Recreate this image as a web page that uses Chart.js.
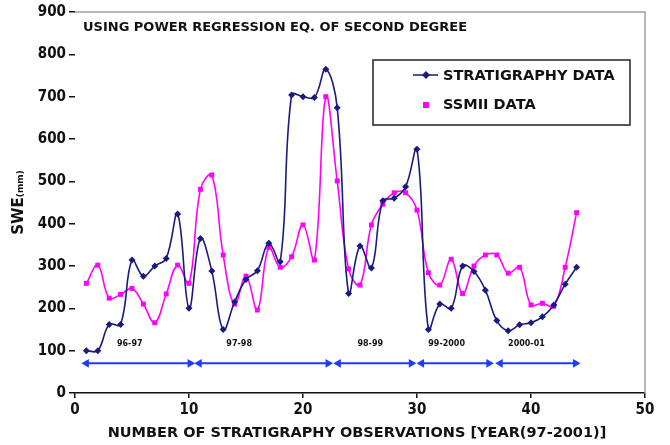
<!DOCTYPE html>
<html>
<head>
<meta charset="utf-8">
<script src="https://cdn.jsdelivr.net/npm/chart.js@4.4.1/dist/chart.umd.min.js"></script>
<style>
  html, body { margin: 0; padding: 0; background: #fff; }
  #wrap { width: 670px; height: 445px; position: relative; }
</style>
</head>
<body>
<div id="wrap"><canvas id="sweChart"></canvas></div>
<script>
const obsNo = [1, 2, 3, 4, 5, 6, 7, 8, 9, 10, 11, 12, 13, 14, 15, 16, 17, 18, 19, 20, 21, 22,
               23, 24, 25, 26, 27, 28, 29, 30, 31, 32, 33, 34, 35, 36, 37, 38, 39, 40, 41, 42, 43, 44];
const stratSwe = [100, 100, 162, 162, 314, 276, 300, 318, 423, 200,
                  365, 288, 150, 215, 268, 289, 354, 310, 704, 700,
                  698, 765, 674, 235, 347, 295, 454, 460, 487, 576,
                  150, 210, 200, 300, 287, 243, 171, 147, 161, 166,
                  180, 208, 257, 297];
const ssmiSwe = [259, 302, 224, 233, 247, 210, 166, 234, 302, 259,
                 481, 515, 326, 210, 276, 196, 344, 297, 322, 397,
                 314, 700, 501, 293, 255, 397, 446, 473, 473, 432,
                 284, 255, 316, 235, 300, 326, 326, 283, 297, 208,
                 212, 205, 297, 426];

// winter periods shown with arrows under the curves
const periodNames = ['96-97', '97-98', '98-99', '99-2000', '2000-01'];
const periodStart = [1, 10.9, 23.1, 30.4, 37.3];
const periodEnd = [10.1, 22.2, 29.5, 36.3, 43.9];
const periodLabelX = [4.8, 14.4, 25.9, 32.6, 39.6];
const periodLabelY = 115;
const arrowY = 70;

const yTicks = [0, 100, 200, 300, 400, 500, 600, 700, 800, 900];
const xTicks = [0, 10, 20, 30, 40, 50];

const NAVY = '#1a1a80';
const PINK = '#ff00ff';
const ARROW = '#1e3cff';
const WIDE = '"DejaVu Sans", sans-serif';
const NARROW = '"Liberation Sans Narrow", "DejaVu Sans Condensed", "Liberation Sans", sans-serif';

const arrowPts = [];
periodStart.forEach((s, i) => {
  arrowPts.push({ x: s, y: arrowY }, { x: periodEnd[i], y: arrowY }, { x: periodEnd[i], y: null });
});

const decor = {
  id: 'decor',
  afterDraw(chart) {
    const { ctx, chartArea: a, scales: { x, y } } = chart;
    ctx.save();

    // grey frame top and right
    ctx.strokeStyle = '#a0a0a0';
    ctx.lineWidth = 1.5;
    ctx.beginPath();
    ctx.moveTo(a.left, a.top);
    ctx.lineTo(a.right, a.top);
    ctx.lineTo(a.right, a.bottom);
    ctx.stroke();

    ctx.fillStyle = '#111';
    ctx.textBaseline = 'middle';
    ctx.textAlign = 'left';
    ctx.font = 'bold 13px ' + WIDE;
    ctx.fillText('USING POWER REGRESSION EQ. OF SECOND DEGREE', a.left + 8, a.top + 16);

    // period labels
    ctx.font = 'bold 8px ' + WIDE;
    ctx.textAlign = 'center';
    periodNames.forEach((n, i) => {
      ctx.fillText(n, x.getPixelForValue(periodLabelX[i]), y.getPixelForValue(periodLabelY));
    });

    // axis titles
    ctx.font = 'bold 14.5px ' + WIDE;
    ctx.fillText('NUMBER OF STRATIGRAPHY OBSERVATIONS [YEAR(97-2001)]', 357, 433);

    ctx.translate(19, (a.top + a.bottom) / 2);
    ctx.rotate(-Math.PI / 2);
    ctx.textAlign = 'left';
    ctx.font = 'bold 15px ' + WIDE;
    const w1 = ctx.measureText('SWE').width;
    ctx.font = 'bold 9px ' + WIDE;
    const w2 = ctx.measureText('(mm)').width;
    const x0 = -(w1 + w2) / 2;
    ctx.font = 'bold 15px ' + WIDE;
    ctx.fillText('SWE', x0, 0);
    ctx.font = 'bold 9px ' + WIDE;
    ctx.fillText('(mm)', x0 + w1, 2);
    ctx.restore();

    // legend box
    ctx.save();
    const bx = 373, by = 60, bw = 257, bh = 65;
    ctx.strokeStyle = '#222';
    ctx.lineWidth = 1.5;
    ctx.strokeRect(bx, by, bw, bh);
    ctx.font = 'bold 14.5px ' + WIDE;
    ctx.textBaseline = 'middle';
    ctx.fillStyle = '#111';
    const ds = chart.data.datasets;
    // entry 1
    ctx.strokeStyle = ds[0].borderColor;
    ctx.lineWidth = 1.5;
    ctx.beginPath();
    ctx.moveTo(413, 75);
    ctx.lineTo(438, 75);
    ctx.stroke();
    ctx.fillStyle = ds[0].borderColor;
    ctx.beginPath();
    ctx.moveTo(426, 71); ctx.lineTo(430, 75); ctx.lineTo(426, 79); ctx.lineTo(422, 75);
    ctx.closePath();
    ctx.fill();
    ctx.fillStyle = '#111';
    ctx.fillText(ds[0].label, 443, 76);
    // entry 2
    ctx.fillStyle = ds[1].borderColor;
    ctx.fillRect(423, 102, 6, 6);
    ctx.fillStyle = '#111';
    ctx.fillText(ds[1].label, 443, 105);
    ctx.restore();
  }
};

new Chart(document.getElementById('sweChart'), {
  type: 'line',
  data: {
    datasets: [
      {
        label: 'STRATIGRAPHY DATA',
        data: obsNo.map((o, i) => ({ x: o, y: stratSwe[i] })),
        borderColor: NAVY,
        backgroundColor: NAVY,
        borderWidth: 1.6,
        tension: 0.4,
        pointStyle: 'rectRot',
        pointRadius: 3.5,
        pointBorderWidth: 0,
      },
      {
        label: 'SSMII DATA',
        data: obsNo.map((o, i) => ({ x: o, y: ssmiSwe[i] })),
        borderColor: PINK,
        backgroundColor: PINK,
        borderWidth: 1.6,
        tension: 0.4,
        pointStyle: 'rect',
        pointRadius: 3.5,
        pointBorderWidth: 0,
      },
      {
        label: 'periods',
        data: arrowPts,
        borderColor: ARROW,
        backgroundColor: ARROW,
        borderWidth: 2,
        tension: 0,
        spanGaps: false,
        pointStyle: 'triangle',
        pointRadius: 5,
        pointBorderWidth: 0,
        pointRotation: c => (c.dataIndex % 3 === 0 ? -90 : 90),
      }
    ]
  },
  options: {
    responsive: true,
    maintainAspectRatio: false,
    animation: false,
    layout: { padding: { top: 12, right: 25, left: 0, bottom: 0 } },
    plugins: { legend: { display: false }, tooltip: { enabled: false } },
    scales: {
      x: {
        type: 'linear',
        min: 0,
        max: 50,
        afterFit: s => { s.height = 52; },
        afterBuildTicks: s => { s.ticks = xTicks.map(v => ({ value: v })); },
        ticks: { color: '#111', font: { family: NARROW, size: 15, weight: 'bold' }, padding: 3 },
        grid: { drawOnChartArea: false, tickLength: 5, color: '#111', lineWidth: 1.5 },
        border: { color: '#111', width: 1.5 }
      },
      y: {
        min: 0,
        max: 900,
        afterFit: s => { s.width = 75; },
        afterBuildTicks: s => { s.ticks = yTicks.map(v => ({ value: v })); },
        ticks: { color: '#111', font: { family: NARROW, size: 15, weight: 'bold' }, padding: 3 },
        grid: { drawOnChartArea: false, tickLength: 6, color: '#111', lineWidth: 1.5 },
        border: { display: false }
      }
    }
  },
  plugins: [decor]
});
</script>
</body>
</html>
